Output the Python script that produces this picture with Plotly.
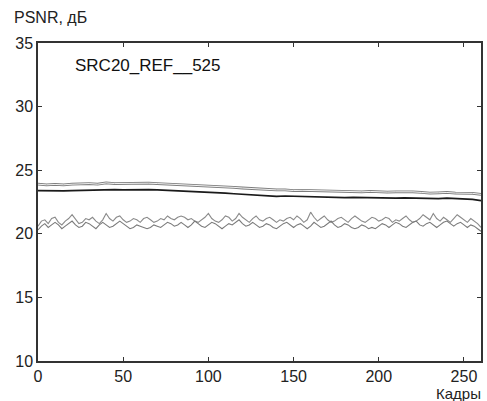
import plotly.graph_objects as go

# Smooth series sampled every 5 frames
frames_smooth = list(range(0, 261, 5))
psnr_top = [23.9, 23.85, 23.88, 23.85, 23.9, 23.92, 23.95, 23.9, 24.0, 23.95,
            23.97, 23.95, 24.0, 23.98, 23.95, 23.92, 23.9, 23.88, 23.85, 23.8,
            23.75, 23.72, 23.7, 23.65, 23.6, 23.55, 23.5, 23.5, 23.45, 23.45,
            23.4, 23.42, 23.4, 23.38, 23.35, 23.37, 23.35, 23.32, 23.3, 23.33,
            23.3, 23.28, 23.3, 23.32, 23.3, 23.25, 23.2, 23.22, 23.25, 23.2,
            23.2, 23.18, 23.1]
psnr_black = [23.4, 23.38, 23.35, 23.37, 23.4, 23.42, 23.45, 23.43, 23.5, 23.47,
              23.45, 23.47, 23.5, 23.48, 23.45, 23.42, 23.4, 23.38, 23.35, 23.32,
              23.3, 23.25, 23.2, 23.15, 23.1, 23.05, 23.0, 22.98, 22.95, 22.97,
              22.95, 22.93, 22.9, 22.92, 22.9, 22.88, 22.85, 22.87, 22.85, 22.83,
              22.8, 22.82, 22.8, 22.82, 22.8, 22.78, 22.75, 22.77, 22.8, 22.78,
              22.75, 22.7, 22.6]

# Noisy series sampled every 2 frames
psnr_a = [20.6, 21.0, 21.1, 20.8, 21.2, 21.3, 20.9, 20.7, 21.0, 21.2, 21.5, 21.1, 20.8, 20.9, 21.2, 21.1,
          21.3, 21.0, 20.8, 21.1, 21.6, 21.2, 21.0, 21.3, 21.4, 21.1, 20.9, 21.0, 21.2, 21.1, 20.9, 21.2,
          21.3, 21.1, 20.9, 21.0, 21.2, 21.1, 21.4, 21.2, 21.1, 21.3, 21.4, 21.3, 21.1, 21.2, 21.0, 20.9,
          21.1, 21.3, 21.6, 21.2, 21.0, 20.9, 21.1, 21.4, 21.3, 21.0, 21.2, 21.6, 21.3, 21.1, 20.9, 21.2,
          21.4, 21.1, 21.0, 21.2, 21.3, 21.1, 20.9, 21.1, 21.0, 21.2, 21.3, 21.1, 21.4, 21.2, 20.9, 21.1,
          21.7, 21.3, 21.0, 21.2, 21.4, 21.1, 20.9, 21.0, 21.2, 21.3, 21.1, 20.9, 21.2, 21.4, 21.2, 21.0,
          20.9, 21.1, 21.3, 21.2, 21.0, 21.1, 21.3, 21.2, 20.9, 21.1, 21.0, 21.2, 21.4, 21.1, 20.9, 21.0,
          21.2, 21.5, 21.3, 21.1, 21.6, 21.2, 21.0, 21.3, 21.1, 20.9, 21.2, 21.5, 21.3, 21.1, 20.9, 21.2,
          21.0, 20.8, 20.5]
psnr_b = [20.3, 20.6, 20.8, 20.5, 20.7, 20.9, 20.7, 20.4, 20.6, 20.8, 21.0, 20.7, 20.5, 20.6, 20.9, 20.8,
          20.6, 20.4, 20.7, 20.9, 20.7, 20.5, 20.6, 20.8, 21.0, 20.8, 20.6, 20.4, 20.5, 20.7, 20.6, 20.5,
          20.4, 20.5, 20.7, 20.6, 20.5, 20.7, 20.9, 20.8, 20.6, 20.7, 20.9, 20.7, 20.5, 20.7, 21.0, 20.8,
          20.6, 20.5, 20.7, 20.9, 20.8, 20.6, 20.4, 20.6, 20.8, 20.7, 20.9, 21.1, 20.8, 20.6, 20.7, 20.9,
          20.7, 20.5, 20.6, 20.8, 20.7, 20.5, 20.4, 20.6, 20.8, 20.9, 20.7, 20.5, 20.7, 20.8, 20.6, 20.4,
          20.6, 20.9, 20.7, 20.5, 20.6, 20.8, 21.0, 20.7, 20.5, 20.6, 20.8, 20.7, 20.5, 20.4, 20.5, 20.7,
          20.6, 20.4, 20.5, 20.4, 20.6, 20.8, 20.7, 20.5, 20.7, 20.9, 20.8, 20.6, 20.5, 20.7, 20.9, 21.0,
          20.7, 20.6, 20.8, 20.9, 20.7, 20.5, 20.7, 20.9, 21.0, 20.8, 20.6, 20.8, 20.9, 20.7, 20.5, 20.7,
          20.6, 20.4, 20.2]
frames_a = [2 * i for i in range(len(psnr_a))]
frames_b = [2 * i for i in range(len(psnr_b))]

x_ticks = [0, 50, 100, 150, 200, 250]
y_ticks = [10, 15, 20, 25, 30, 35]

fig = go.Figure()
fig.add_trace(go.Scatter(x=frames_a, y=psnr_a, mode="lines",
                         line=dict(color="#8a8a8a", width=1.1)))
fig.add_trace(go.Scatter(x=frames_b, y=psnr_b, mode="lines",
                         line=dict(color="#7a7a7a", width=1.1)))
fig.add_trace(go.Scatter(x=frames_smooth, y=psnr_top, mode="lines",
                         line=dict(color="#7c7c7c", width=2.8)))
fig.add_trace(go.Scatter(x=frames_smooth, y=psnr_top, mode="lines",
                         line=dict(color="#ffffff", width=0.9)))
fig.add_trace(go.Scatter(x=frames_smooth, y=psnr_black, mode="lines",
                         line=dict(color="#1a1a1a", width=1.7)))

fam = "Liberation Sans, Arial, sans-serif"
fig.update_layout(
    width=487, height=401,
    margin=dict(l=38, r=4, t=43, b=40),
    paper_bgcolor="white", plot_bgcolor="white",
    showlegend=False,
    font=dict(family=fam, size=16, color="#222222"),
    xaxis=dict(range=[0, 260], tickvals=x_ticks, ticks="inside", ticklen=4,
               showgrid=False, zeroline=False, showline=True, mirror="ticks",
               linecolor="#333333", linewidth=1.5, tickcolor="#333333"),
    yaxis=dict(range=[10, 35], tickvals=y_ticks, ticks="inside", ticklen=4,
               showgrid=False, zeroline=False, showline=True, mirror="ticks",
               linecolor="#333333", linewidth=1.5, tickcolor="#333333"),
    annotations=[
        dict(text="PSNR, дБ", xref="paper", yref="paper", x=-0.058, y=1.0,
             yshift=26, xanchor="left", yanchor="middle", showarrow=False,
             font=dict(family=fam, size=16, color="#222222")),
        dict(text="Кадры", xref="paper", yref="paper", x=1.005, y=0, yshift=-32,
             xanchor="right", yanchor="middle", showarrow=False,
             font=dict(family=fam, size=15, color="#222222")),
        dict(text="SRC20_REF__525", xref="paper", yref="paper", x=0.078, y=0.93,
             xanchor="left", yanchor="middle", showarrow=False,
             font=dict(family=fam, size=17, color="#111111")),
    ],
)

fig.write_html(
    "out.html",
    config={"displayModeBar": False},
    post_script="document.body.style.margin='0';document.body.style.overflow='hidden';",
)
